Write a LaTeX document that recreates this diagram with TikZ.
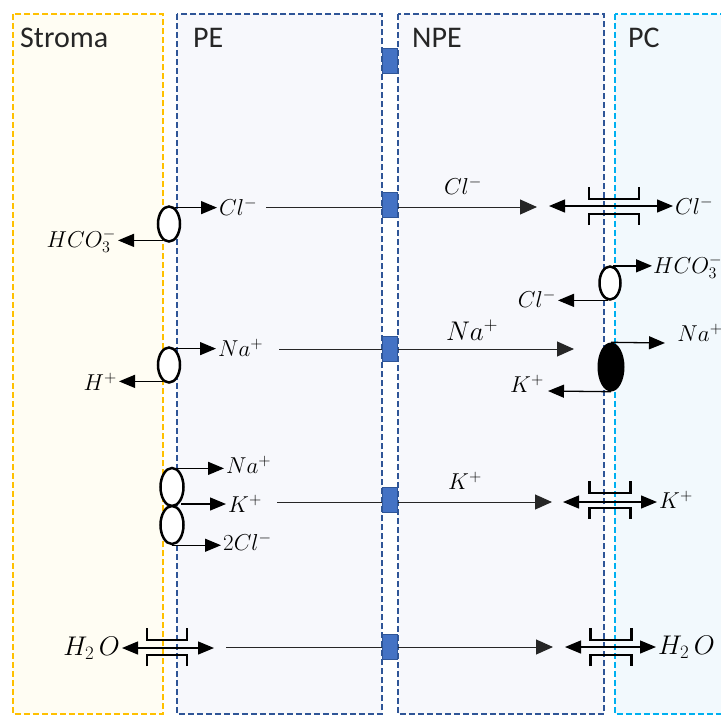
\documentclass[tikz,border=0pt]{standalone}
\usepackage{fix-cm}
\usepackage{fontspec}
\setmainfont{Carlito}
\usetikzlibrary{shapes.geometric,arrows.meta,calc}
\definecolor{stromaB}{HTML}{FFC000}
\definecolor{stromaF}{HTML}{FFFDF3}
\definecolor{peB}{HTML}{2F5597}
\definecolor{peF}{HTML}{F7F8FC}
\definecolor{pcB}{HTML}{00B0F0}
\definecolor{pcF}{HTML}{F2F9FD}
\definecolor{pumpF}{HTML}{4472C4}
\tikzset{
  memb/.style={line width=2pt, dash pattern=on 6pt off 3pt},
  boxlabel/.style={font=\fontsize{30}{34}\selectfont, anchor=base west, inner sep=0, text=black!85},
  ion/.style={font=\fontsize{23}{27}\selectfont, inner sep=2pt},
  bigion/.style={font=\fontsize{27}{31}\selectfont, inner sep=2pt},
  arr/.style={-{Triangle[length=16pt,width=13pt]}, line width=1.3pt},
  darr/.style={{Triangle[length=16pt,width=13pt]}-{Triangle[length=16pt,width=13pt]}, line width=1.3pt},
  longarr/.style={-{Triangle[length=17pt,width=15pt]}, line width=1pt, black!85},
  carrier/.style={ellipse, draw, line width=2.5pt, fill=white, minimum width=22pt, minimum height=35pt, inner sep=0},
  pumpbox/.style={rectangle, draw=peB, fill=pumpF, line width=1.5pt, minimum width=15pt, minimum height=25pt, inner sep=0},
  chan/.style={line width=2.5pt},
  pics/channel/.style={code={
    \draw[chan] (-#1,-19) -- (-#1,-7) -- (#1,-7) -- (#1,-19);
    \draw[chan] (-#1,19) -- (-#1,8) -- (#1,8) -- (#1,19);
  }},
}
\begin{document}
\begin{tikzpicture}[x=1pt,y=-1pt]
\useasboundingbox (0,0) rectangle (721,716);
\clip (0,0) rectangle (721,716);
% compartments
\draw[memb, draw=stromaB, fill=stromaF] (13,14) rectangle (163,714);
\draw[memb, draw=peB, fill=peF] (177,14) rectangle (382,714);
\draw[memb, draw=peB, fill=peF] (398,14) rectangle (604,714);
\draw[memb, draw=pcB, fill=pcF] (615,14) rectangle (740,714);
\node[boxlabel] (lStroma) at (20,47) {Stroma};
\node[boxlabel] (lPE) at (193,47) {PE};
\node[boxlabel] (lNPE) at (412,47) {NPE};
\node[boxlabel] (lPC) at (628,47) {PC};

% ---------- row 1: Cl- ----------
\node[carrier] (e1) at (169,224) {};
\node[ion, anchor=west] (cl1) at (217,207) {$Cl^-$};
\node[ion, anchor=east] (hco1) at (118,241) {$HCO_3^-$};
\draw[arr] (e1.70) -- (e1.70 -| cl1.west);
\draw[arr] (e1.250) -- (e1.250 -| hco1.east);
\coordinate (l1s) at (266,207);
\coordinate (l1e) at (537,207);
\draw[longarr] (l1s) -- (l1e);
\node[ion] (cl2) at (463,186) {$Cl^-$};
\pic at (614,206) {channel=25};
\node[ion, anchor=west] (cl3) at (673,206) {$Cl^-$};
\coordinate (c1l) at (549,206);
\draw[darr] (c1l) -- (cl3.west);

% ---------- PC HCO3 exchanger ----------
\node[carrier, minimum width=21pt, minimum height=33pt] (e3) at (610,283) {};
\node[ion, anchor=west, inner sep=1pt] (hco2) at (652,267) {$HCO_3^-$};
\node[ion, anchor=east] (cl4) at (558,299) {$Cl^-$};
\draw[arr] (e3.80) -- (e3.80 -| hco2.west);
\draw[arr] (e3.262) -- (e3.262 -| cl4.east);

% ---------- row 2: Na+ ----------
\node[carrier] (e2) at (169,365) {};
\node[ion, anchor=west] (na1) at (216,348) {$Na^+$};
\node[ion, anchor=east] (h1) at (119,382) {$H^+$};
\draw[arr] (e2.70) -- (e2.70 -| na1.west);
\draw[arr] (e2.250) -- (e2.250 -| h1.east);
\coordinate (l2s) at (279,349);
\coordinate (l2e) at (574,349);
\draw[longarr] (l2s) -- (l2e);
\node[bigion] (na2) at (472,330) {$Na^+$};
\node[ellipse, fill=black, minimum width=27pt, minimum height=49pt, inner sep=0] (e4) at (611,367) {};
\node[ion] (na3) at (700,333) {$Na^+$};
\coordinate (na3t) at (665,343);
\draw[arr] (e4.north) -- (na3t);
\node[ion] (k1) at (527,384) {$K^+$};
\coordinate (k1t) at (548,391);
\draw[arr] (e4.south) -- (k1t);

% ---------- row 3: Na-K-2Cl ----------
\node[carrier, minimum width=23pt, minimum height=38pt] (e5) at (172,487) {};
\node[carrier, minimum width=23pt, minimum height=38pt] (e6) at (172,525) {};
\node[ion, anchor=west] (na4) at (224,465) {$Na^+$};
\node[ion, anchor=west] (k2) at (226,504) {$K^+$};
\node[ion, anchor=west] (cl5) at (221,542) {$2Cl^-$};
\coordinate (k2s) at (181,504);
\draw[arr] (e5.75) -- (e5.75 -| na4.west);
\draw[arr] (k2s) -- (k2s -| k2.west);
\draw[arr] (e6.south) -- (e6.south -| cl5.west);
\coordinate (l3s) at (277,502);
\coordinate (l3e) at (552,502);
\draw[longarr] (l3s) -- (l3e);
\node[ion] (k3) at (465,481) {$K^+$};
\pic at (610,500) {channel=20.5};
\node[ion, anchor=west] (k4) at (657,500) {$K^+$};
\coordinate (c2l) at (563,502);
\draw[darr] (c2l) -- (c2l -| k4.west);

% ---------- row 4: water ----------
\pic at (167,647) {channel=20};
\node[bigion, anchor=east] (w1) at (122,648) {$H_2\,O$};
\coordinate (c3r) at (214,648);
\draw[darr] (w1.east) -- (c3r);
\coordinate (l4s) at (226,647);
\coordinate (l4e) at (553,647);
\draw[longarr] (l4s) -- (l4e);
\pic at (611,647) {channel=20.5};
\node[bigion, anchor=west] (w2) at (656,647) {$H_2\,O$};
\coordinate (c4l) at (565,647);
\draw[darr] (c4l) -- (w2.west);

% ---------- pumps between PE and NPE ----------
\node[pumpbox] (p1) at (390,61) {};
\node[pumpbox] (p2) at (390,205) {};
\node[pumpbox] (p3) at (390,349) {};
\node[pumpbox] (p4) at (390,500) {};
\node[pumpbox] (p5) at (390,647) {};
\end{tikzpicture}
\end{document}
